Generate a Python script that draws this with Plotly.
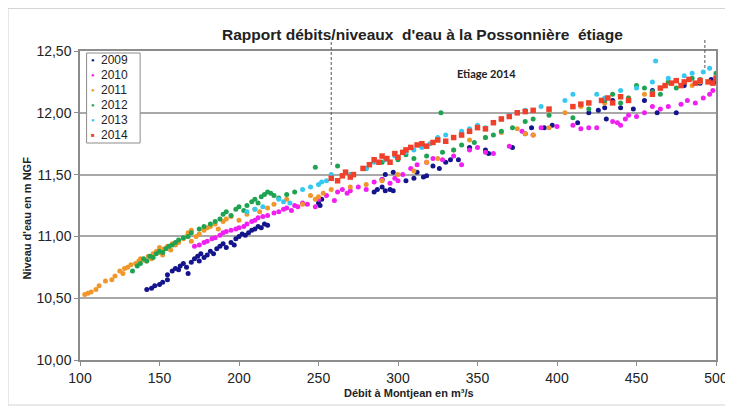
import plotly.graph_objects as go

# ---------------- data ----------------
years = ["2009", "2010", "2011", "2012", "2013", "2014"]
colors = ["#14148c", "#f020f0", "#f0962a", "#1fa352", "#36c8f0", "#f0402a"]

x2009 = [142,145,147,150,152,155,155,158,160,162,163,165,167,168,170,172,174,175,176,178,180,182,184,186,188,190,192,195,197,198,200,202,204,206,208,210,212,214,216,218,250,252,251,285,287,290,292,295,297,290,292,297,305,310,312,316,318,322,326,330,333,338,345,355,357,372,380,384,392,397,413,420,426,430,431,435,440,445,448,455,460,463,475,480,490,500,497]
y2009 = [10.57,10.58,10.60,10.61,10.63,10.65,10.69,10.72,10.74,10.73,10.76,10.78,10.75,10.70,10.79,10.82,10.84,10.80,10.86,10.83,10.85,10.88,10.86,10.90,10.92,10.94,10.91,10.95,10.93,10.98,11.00,11.02,11.01,11.03,11.05,11.06,11.08,11.07,11.10,11.09,11.27,11.30,11.25,11.36,11.38,11.40,11.37,11.38,11.37,11.46,11.50,11.52,11.45,11.47,11.52,11.48,11.49,11.57,11.55,11.60,11.62,11.62,11.72,11.70,11.67,11.72,11.83,11.88,11.88,11.90,11.92,12.00,12.02,12.04,11.95,12.10,12.04,12.10,12.03,12.10,12.18,12.00,12.00,12.22,12.24,12.25,12.27]

x2010 = [172,175,178,180,183,185,188,190,192,195,198,200,203,205,208,210,212,215,218,222,225,228,230,233,235,237,240,243,248,250,255,260,262,265,268,270,275,280,285,290,295,298,300,303,308,312,318,322,328,335,340,345,350,355,360,370,378,385,390,400,410,415,420,425,435,438,440,443,445,450,455,460,465,470,478,482,487,492,496,498]
y2010 = [10.92,10.93,10.95,10.96,10.98,10.99,11.01,11.03,11.04,11.05,11.06,11.07,11.08,11.10,11.12,11.13,11.15,11.16,11.17,11.19,11.20,11.22,11.23,11.21,11.25,11.24,11.27,11.26,11.24,11.30,11.33,11.29,11.36,11.38,11.35,11.37,11.40,11.38,11.44,11.46,11.43,11.47,11.45,11.50,11.55,11.58,11.60,11.63,11.62,11.65,11.58,11.70,11.72,11.68,11.67,11.73,11.85,11.82,11.88,11.89,11.90,11.87,11.88,11.88,11.93,11.92,11.90,11.95,11.98,11.97,12.00,12.05,12.03,12.05,12.07,12.10,12.08,12.12,12.15,12.18]

x2011 = [103,105,107,110,112,116,120,122,125,127,128,130,132,135,137,138,140,142,143,145,146,148,150,150,152,153,155,157,158,160,162,165,167,168,170,170,173,175,178,180,182,185,187,190,192,195,200,205,210,213,218,222,230,240,245,248,250,253,258,270,280,290,300,310,318,325,335,345,355,365,375,380,385,395,395,405,415,430,445,455,470,485,490]
y2011 = [10.53,10.54,10.55,10.57,10.60,10.64,10.65,10.68,10.72,10.70,10.74,10.75,10.77,10.78,10.80,10.82,10.81,10.80,10.84,10.82,10.86,10.88,10.87,10.91,10.85,10.90,10.92,10.89,10.94,10.93,10.95,10.98,11.00,11.03,11.05,10.96,11.00,11.02,11.05,11.07,11.08,11.10,11.06,11.12,11.14,11.16,11.13,11.18,11.22,11.20,11.23,11.26,11.30,11.26,11.33,11.30,11.32,11.35,11.38,11.40,11.42,11.45,11.50,11.53,11.60,11.63,11.70,11.78,11.80,11.84,11.87,11.83,11.82,11.88,12.02,12.00,12.05,12.08,12.12,12.15,12.25,12.22,12.25]

x2012 = [133,136,138,140,142,144,146,148,150,152,154,156,158,160,162,165,168,170,175,178,182,185,188,190,192,195,198,200,203,205,208,210,212,214,216,218,220,222,225,230,235,248,262,270,280,290,300,305,310,318,327,328,335,340,348,355,360,365,372,380,385,395,410,420,430,435,440,445,450,455,460,465,470,475,485,490,500]
y2012 = [10.72,10.76,10.78,10.82,10.80,10.84,10.83,10.86,10.88,10.87,10.90,10.92,10.93,10.95,10.97,10.99,11.00,11.03,11.06,11.08,11.10,11.12,11.14,11.18,11.20,11.17,11.22,11.24,11.21,11.25,11.28,11.30,11.27,11.32,11.34,11.36,11.35,11.33,11.31,11.34,11.36,11.56,11.57,11.50,11.55,11.60,11.62,11.66,11.63,11.65,12.00,11.68,11.70,11.74,11.76,11.80,11.82,11.85,11.88,11.93,11.95,11.98,11.96,12.03,12.10,12.15,12.08,12.12,12.22,12.20,12.17,12.15,12.25,12.20,12.28,12.27,12.32]

x2013 = [205,210,215,225,228,232,240,245,250,252,255,258,270,280,285,292,298,305,310,315,320,325,330,335,340,345,350,355,360,365,370,375,380,390,405,410,425,430,440,450,460,462,470,480,485,492,496]
y2013 = [11.20,11.22,11.24,11.30,11.28,11.27,11.38,11.40,11.42,11.44,11.45,11.50,11.50,11.55,11.60,11.62,11.65,11.68,11.70,11.72,11.75,11.80,11.82,11.80,11.85,11.87,11.90,11.88,11.92,11.95,11.98,12.00,12.02,12.05,12.10,12.15,12.15,12.12,12.18,12.20,12.25,12.42,12.28,12.30,12.32,12.33,12.36]

x2014 = [258,262,265,267,270,272,278,282,285,288,290,293,295,298,300,303,305,308,312,315,318,322,325,330,335,340,345,350,355,360,365,370,375,380,385,395,410,415,420,428,432,435,440,445,460,465,468,472,475,478,480,483,487,490,495,498,500]
y2014 = [11.47,11.45,11.49,11.52,11.48,11.50,11.55,11.58,11.62,11.60,11.65,11.63,11.60,11.67,11.64,11.68,11.70,11.72,11.74,11.75,11.73,11.76,11.78,11.77,11.80,11.82,11.85,11.88,11.87,11.92,11.95,11.97,12.00,12.01,12.02,12.03,12.05,12.07,12.08,12.10,12.12,12.08,12.13,12.10,12.15,12.20,12.22,12.24,12.26,12.22,12.25,12.27,12.24,12.26,12.25,12.24,12.28]

xs = [x2009, x2010, x2011, x2012, x2013, x2014]
ys = [y2009, y2010, y2011, y2012, y2013, y2014]

y_tickvals = [10.0, 10.5, 11.0, 11.5, 12.0, 12.5]
y_ticktext = ["10,00", "10,50", "11,00", "11,50", "12,00", "12,50"]
x_tickvals = [100, 150, 200, 250, 300, 350, 400, 450, 500]

etiage_limits = [258, 493]          # dashed markers of the 2014 low-water period
etiage_label = "Etiage 2014"

title_text = "Rapport débits/niveaux&nbsp; d'eau à la Possonnière&nbsp; étiage"
x_title = "Débit à Montjean en m³/s"
y_title = "Niveau d'eau en m NGF"

# ---------------- figure ----------------
# The page body has an 8px margin, so the figure is placed at (8, 8).
NARROW = "Liberation Sans Narrow, Arial Narrow, Liberation Sans, Arial, sans-serif"
ARIAL = "Liberation Sans, Arial, sans-serif"

FW, FH = 725, 400
# plot area in page pixels
PL, PR, PT, PB = 80.4, 716.0, 51.0, 360.0
PW, PH = PR - PL, PB - PT


def px(xpage):
    return (xpage - PL) / PW


def py(ypage):
    return (PB - ypage) / PH


fig = go.Figure()
for i, yr in enumerate(years):
    fig.add_trace(go.Scatter(
        x=xs[i], y=ys[i], mode="markers", name=yr, showlegend=False,
        marker=dict(color=colors[i], size=5.5 if yr == "2014" else 5,
                    symbol="square" if yr == "2014" else "circle",
                    line=dict(width=0)),
    ))

fig.update_layout(
    width=FW, height=FH,
    margin=dict(l=PL - 8, r=FW - (PR - 8), t=PT - 8, b=FH - (PB - 8), autoexpand=False),
    paper_bgcolor="white", plot_bgcolor="white",
    showlegend=False,
    font=dict(family=NARROW, color="#222"),
)

fig.update_xaxes(range=[100, 500], tickvals=x_tickvals,
                 ticktext=[str(v) for v in x_tickvals],
                 showgrid=False, zeroline=False,
                 showline=True, linecolor="#8c8c8c", linewidth=1.5, mirror=True,
                 ticks="outside", ticklen=4, tickcolor="#8c8c8c",
                 tickfont=dict(family=NARROW, size=14, color="#222"))
fig.update_yaxes(range=[10.0, 12.5], tickvals=y_tickvals, ticktext=y_ticktext,
                 showgrid=True, gridcolor="#a8a8a8", gridwidth=1.5, zeroline=False,
                 showline=True, linecolor="#8c8c8c", linewidth=1.5, mirror=True,
                 ticks="outside", ticklen=4, tickcolor="#8c8c8c",
                 tickfont=dict(family=NARROW, size=14, color="#222"))

# outer chart border
fig.add_shape(type="rect", xref="paper", yref="paper",
              x0=px(8.5), x1=px(731), y0=py(405), y1=py(8.5),
              line=dict(color="#d4d4d4", width=1), layer="below")

# legend box (compact, like the original)
fig.add_shape(type="rect", xref="paper", yref="paper",
              x0=px(87), x1=px(140.5), y0=py(143), y1=py(53),
              line=dict(color="#8c8c8c", width=1), fillcolor="white", layer="above")
for i, yr in enumerate(years):
    yc = py(60 + 15 * i)
    glyph = "■" if yr == "2014" else "●"
    fig.add_annotation(x=px(93.5), y=yc, xref="paper", yref="paper",
                       text=glyph, showarrow=False, xanchor="center", yanchor="middle",
                       font=dict(family=ARIAL, size=6, color=colors[i]))
    fig.add_annotation(x=px(99), y=yc, xref="paper", yref="paper",
                       text=yr, showarrow=False, xanchor="left", yanchor="middle",
                       font=dict(family=ARIAL, size=12, color="#222"))

# dashed verticals
fig.add_shape(type="line", xref="x", yref="paper",
              x0=etiage_limits[0], x1=etiage_limits[0], y0=py(165), y1=py(42),
              line=dict(color="#555", width=1, dash="3px,2px"))
fig.add_shape(type="line", xref="x", yref="paper",
              x0=etiage_limits[1], x1=etiage_limits[1], y0=py(68), y1=py(40),
              line=dict(color="#555", width=1, dash="3px,2px"))

fig.add_annotation(x=355.5, y=12.32, xref="x", yref="y", text="<b>" + etiage_label + "</b>",
                   xanchor="center", yanchor="middle", showarrow=False,
                   font=dict(family="Lato, Open Sans, sans-serif", size=11, color="#222"))

fig.add_annotation(x=px(423), y=py(35), xref="paper", yref="paper",
                   text="<b>" + title_text + "</b>", showarrow=False,
                   xanchor="center", yanchor="middle",
                   font=dict(family=ARIAL, size=15.5, color="#222"))
fig.add_annotation(x=px(409), y=py(393), xref="paper", yref="paper",
                   text="<b>" + x_title + "</b>", showarrow=False,
                   xanchor="center", yanchor="middle",
                   font=dict(family=ARIAL, size=11, color="#222"))
fig.add_annotation(x=px(27), y=py(218), xref="paper", yref="paper",
                   text="<b>" + y_title + "</b>", showarrow=False, textangle=-90,
                   xanchor="center", yanchor="middle",
                   font=dict(family=ARIAL, size=11, color="#222"))

fig.write_html("out.html")
